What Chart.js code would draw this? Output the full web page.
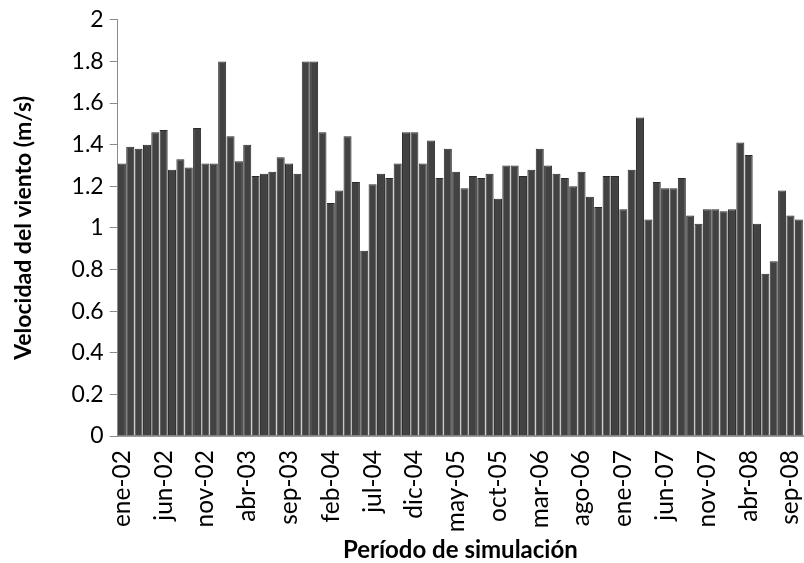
<!DOCTYPE html>
<html>
<head>
<meta charset="utf-8">
<script src="https://cdn.jsdelivr.net/npm/chart.js@4/dist/chart.umd.min.js"></script>
<style>
  html, body { margin: 0; padding: 0; background: #fff; }
  #wrap { width: 804px; height: 563px; }
</style>
</head>
<body>
<div id="wrap"><canvas id="chart" width="804" height="563"></canvas></div>
<script>
// Meses del período de simulación (ene-02 a oct-08)
const meses = ['ene', 'feb', 'mar', 'abr', 'may', 'jun', 'jul', 'ago', 'sep', 'oct', 'nov', 'dic'];
const anios = ['02', '03', '04', '05', '06', '07', '08'];
const categorias = [];
anios.forEach(a => meses.forEach(m => categorias.push(m + '-' + a)));
categorias.length = 82;

// Velocidad media mensual del viento (m/s)
const velocidad = [
  1.31, 1.39, 1.38, 1.40, 1.46, 1.47, 1.28, 1.33, 1.29, 1.48, 1.31, 1.31,
  1.80, 1.44, 1.32, 1.40, 1.25, 1.26, 1.27, 1.34, 1.31, 1.26, 1.80, 1.80,
  1.46, 1.12, 1.18, 1.44, 1.22, 0.89, 1.21, 1.26, 1.24, 1.31, 1.46, 1.46,
  1.31, 1.42, 1.24, 1.38, 1.27, 1.19, 1.25, 1.24, 1.26, 1.14, 1.30, 1.30,
  1.25, 1.28, 1.38, 1.30, 1.26, 1.24, 1.20, 1.27, 1.15, 1.10, 1.25, 1.25,
  1.09, 1.28, 1.53, 1.04, 1.22, 1.19, 1.19, 1.24, 1.06, 1.02, 1.09, 1.09,
  1.08, 1.09, 1.41, 1.35, 1.02, 0.78, 0.84, 1.18, 1.06, 1.04
];

// Escala del eje Y
const yMin = 0;
const yMax = 2;
const yPaso = 0.2;

const fuente = "Lato, 'Open Sans', sans-serif";

new Chart(document.getElementById('chart'), {
  type: 'bar',
  data: {
    labels: categorias,
    datasets: [{
      label: 'Velocidad del viento',
      data: velocidad,
      backgroundColor: '#424242',
      borderColor: '#2a2a2a',
      borderWidth: 1,
      categoryPercentage: 0.96,
      barPercentage: 1.0
    }]
  },
  options: {
    responsive: false,
    animation: false,
    layout: { padding: { top: 8, right: 1, left: 10, bottom: -2 } },
    plugins: {
      legend: { display: false },
      tooltip: { enabled: false }
    },
    scales: {
      x: {
        // las etiquetas giradas reservan hueco a la derecha; se quita
        afterFit: scale => { scale.paddingRight = 0; scale.paddingLeft = 0; },
        grid: { display: false },
        border: { display: true, color: '#9a9a9a', width: 2 },
        ticks: {
          autoSkip: false,
          maxRotation: 90,
          minRotation: 90,
          color: '#000',
          padding: 6,
          font: { family: fuente, size: 24.5 },
          callback: function (val, idx) {
            return idx % 5 === 0 ? this.getLabelForValue(val) : '';
          }
        },
        title: {
          display: true,
          text: 'Período de simulación',
          color: '#000',
          padding: { top: -2, bottom: 0 },
          font: { family: fuente, size: 24, weight: 'bold' }
        }
      },
      y: {
        min: yMin,
        max: yMax,
        grid: { drawOnChartArea: false, drawTicks: true, tickLength: 8, color: '#8a8a8a' },
        border: { display: true, color: '#8a8a8a' },
        ticks: {
          stepSize: yPaso,
          color: '#000',
          padding: 6,
          font: { family: fuente, size: 23 },
          callback: v => Math.round(v * 10) / 10
        },
        title: {
          display: true,
          text: 'Velocidad del viento (m/s)',
          color: '#000',
          padding: { top: 0, bottom: 28 },
          font: { family: fuente, size: 23, weight: 'bold' }
        }
      }
    }
  }
});
</script>
</body>
</html>
